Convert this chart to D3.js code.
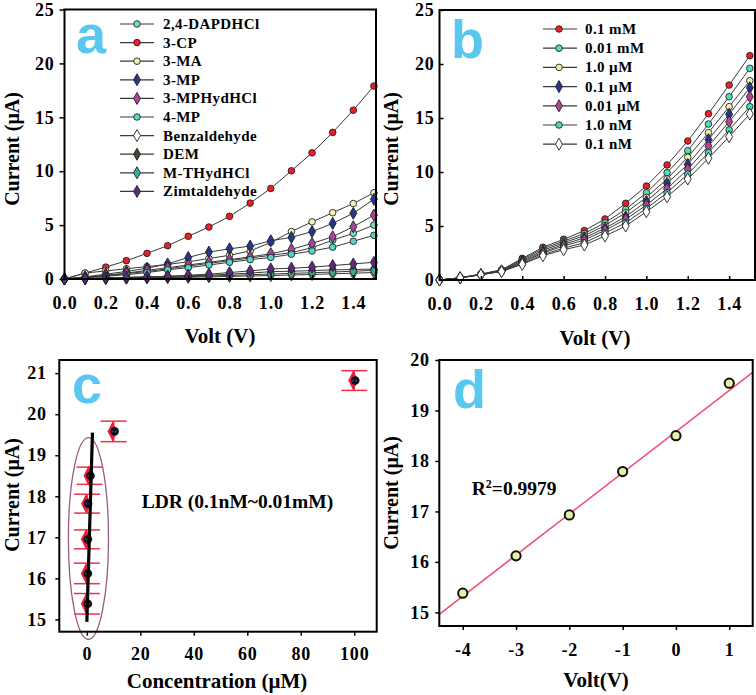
<!DOCTYPE html>
<html>
<head>
<meta charset="utf-8">
<script src="https://cdn.jsdelivr.net/npm/d3@7"></script>
<style>
  body { margin: 0; background: #fff; }
  svg text { font-family: "Liberation Serif", "Times New Roman", serif; font-weight: bold; }
</style>
</head>
<body>
<div id="chart"></div>
<script>
// ========== Data ==========
const voltage = [0, 0.1, 0.2, 0.3, 0.4, 0.5, 0.6, 0.7, 0.8, 0.9, 1.0, 1.1, 1.2, 1.3, 1.4, 1.5];

// panel a - selectivity (current, µA)
const analyteNames = ["2,4-DAPDHCl", "3-CP", "3-MA", "3-MP", "3-MPHydHCl", "4-MP",
  "Benzaldehyde", "DEM", "M-THydHCl", "Zimtaldehyde"];
const analyteColors = ["#6fe0b8", "#ee1c24", "#eef2b0", "#27358f", "#a8449a", "#4fd8c8",
  "#ffffff", "#3c4a34", "#3aa898", "#5a2a82"];
const analyteShapes = ["circle", "circle", "circle", "diamond", "diamond", "circle",
  "diamond", "diamond", "diamond", "diamond"];
const dapdhclCurrent = [0, 0.15, 0.3, 0.5, 0.7, 0.95, 1.2, 1.45, 1.7, 1.95, 2.2, 2.45, 2.9, 3.6, 4.24, 5.0];
const cpCurrent      = [0, 0.55, 1.1, 1.7, 2.38, 3.09, 3.96, 4.82, 5.81, 7.04, 8.4, 10.04, 11.7, 13.6, 15.66, 17.9];
const maCurrent      = [0, 0.55, 0.75, 0.95, 1.15, 1.35, 1.6, 1.9, 2.2, 2.6, 3.4, 4.4, 5.3, 6.15, 7.0, 8.0];
const mpCurrent      = [0, 0.2, 0.45, 0.7, 1.0, 1.4, 2.0, 2.5, 2.8, 3.05, 3.55, 3.86, 4.4, 5.16, 6.1, 7.4];
const mphydCurrent   = [0, 0.15, 0.35, 0.55, 0.8, 1.05, 1.3, 1.55, 1.8, 2.05, 2.35, 2.75, 3.3, 3.92, 4.85, 5.93];
const fourMpCurrent  = [0, 0.1, 0.25, 0.4, 0.6, 0.85, 1.05, 1.3, 1.55, 1.8, 2.0, 2.3, 2.6, 2.95, 3.5, 4.05];
const benzCurrent    = [0, 0.02, 0.04, 0.07, 0.1, 0.13, 0.16, 0.2, 0.24, 0.28, 0.32, 0.37, 0.42, 0.48, 0.54, 0.6];
const demCurrent     = [0, 0.05, 0.1, 0.15, 0.2, 0.25, 0.3, 0.35, 0.45, 0.55, 0.68, 0.72, 0.78, 0.85, 0.88, 0.92];
const mthydCurrent   = [0, 0.03, 0.06, 0.1, 0.14, 0.18, 0.22, 0.27, 0.33, 0.4, 0.46, 0.52, 0.58, 0.65, 0.72, 0.8];
const zimtCurrent    = [0, 0.05, 0.1, 0.15, 0.2, 0.25, 0.35, 0.45, 0.6, 0.75, 0.93, 1.0, 1.1, 1.25, 1.4, 1.55];
const analyteCurrents = [dapdhclCurrent, cpCurrent, maCurrent, mpCurrent, mphydCurrent, fourMpCurrent,
  benzCurrent, demCurrent, mthydCurrent, zimtCurrent];

// panel b - concentration series (current, µA)
const concNames = ["0.1 mM", "0.01 mM", "1.0 µM", "0.1 µM", "0.01 µM", "1.0 nM", "0.1 nM"];
const concColors = ["#ee1c24", "#55dcb4", "#eef2b0", "#27358f", "#b0459a", "#4fd8c0", "#ffffff"];
const concShapes = ["circle", "circle", "circle", "diamond", "diamond", "circle", "diamond"];
const c1e2Current = [0, 0.2, 0.55, 0.95, 2.0, 3.03, 3.77, 4.57, 5.65, 7.1, 8.7, 10.65, 12.87, 15.4, 18.05, 20.77];
const c1e1Current = [0, 0.2, 0.55, 0.9, 1.9, 2.9, 3.6, 4.3, 5.3, 6.54, 8.08, 9.94, 11.97, 14.44, 16.97, 19.6];
const c1e0Current = [0, 0.2, 0.52, 0.88, 1.8, 2.75, 3.45, 4.1, 5.05, 6.23, 7.65, 9.35, 11.36, 13.64, 16.05, 18.45];
const c1m1Current = [0, 0.2, 0.5, 0.85, 1.7, 2.6, 3.3, 3.9, 4.8, 5.86, 7.28, 8.95, 10.7, 13.0, 15.34, 17.8];
const c1m2Current = [0, 0.2, 0.5, 0.82, 1.6, 2.5, 3.15, 3.7, 4.6, 5.62, 6.94, 8.45, 10.25, 12.4, 14.66, 16.97];
const c1m3Current = [0, 0.2, 0.5, 0.8, 1.5, 2.35, 2.95, 3.45, 4.35, 5.3, 6.63, 8.08, 9.8, 11.8, 13.9, 16.05];
const c1m4Current = [0, 0.2, 0.48, 0.78, 1.45, 2.25, 2.8, 3.24, 4.07, 5.0, 6.32, 7.7, 9.35, 11.27, 13.27, 15.37];
const concCurrents = [c1e2Current, c1e1Current, c1e0Current, c1m1Current, c1m2Current, c1m3Current, c1m4Current];

// panel c - current vs concentration
const ldrConc = [0.0001, 0.001, 0.01, 0.1, 1, 10, 100];
const ldrCurrent = [15.38, 16.12, 16.95, 17.82, 18.5, 19.58, 20.82];
const ldrError = [0.25, 0.25, 0.23, 0.23, 0.21, 0.25, 0.24];
const ldrFitConc = [0, 2.1];
const ldrFitCurrent = [14.94, 19.55];
const ldrEllipse = { conc: 0.6, current: 16.97, rConc: 7.5, rCurrent: 2.46 };

// panel d - calibration
const logConc = [-4, -3, -2, -1, 0, 1];
const calibCurrent = [15.38, 16.12, 16.93, 17.79, 18.5, 19.54];
const calibSlope = 0.815;
const calibIntercept = 18.58;

// ========== Setup ==========
const width = 756;
const height = 695;
const letterColor = "#58c8f0";
const intFormat = (d) => String(d);

const svg = d3.select("#chart").append("svg")
  .attr("width", width)
  .attr("height", height);

svg.append("rect").attr("width", width).attr("height", height).attr("fill", "#fff");

function styleAxis(g, size) {
  g.select(".domain").remove();
  g.selectAll("line").attr("stroke", "#000").attr("stroke-width", 1.5);
  g.selectAll("text")
    .attr("fill", "#000")
    .style("font-family", "'Liberation Serif', serif")
    .style("font-weight", "bold")
    .style("font-size", size + "px")
    .attr("letter-spacing", 0.8);
}

function drawFrame(x, y) {
  const [x0, x1] = x.range();
  const [y0, y1] = y.range();
  svg.append("rect")
    .attr("x", x0).attr("y", y1)
    .attr("width", x1 - x0).attr("height", y0 - y1)
    .attr("fill", "none").attr("stroke", "#000").attr("stroke-width", 2);
}

function rotatedLabel(text, cx, cy) {
  svg.append("text")
    .attr("transform", `translate(${cx},${cy}) rotate(-90)`)
    .attr("text-anchor", "middle")
    .attr("dominant-baseline", "central")
    .style("font-size", "20px")
    .text(text);
}

function flatLabel(text, cx, cy, size) {
  svg.append("text")
    .attr("x", cx).attr("y", cy)
    .attr("text-anchor", "middle")
    .attr("dominant-baseline", "central")
    .style("font-size", (size || 21) + "px")
    .text(text);
}

function panelLetter(letter, x, y) {
  svg.append("text")
    .attr("x", x).attr("y", y)
    .attr("fill", letterColor)
    .style("font-family", "'Liberation Sans', Arial, sans-serif")
    .style("font-weight", "bold")
    .style("font-size", "54px")
    .text(letter);
}

function marker(g, shape, cx, cy, fill) {
  if (shape === "circle") {
    g.append("circle").attr("cx", cx).attr("cy", cy).attr("r", 3.3)
      .attr("fill", fill).attr("stroke", "#222").attr("stroke-width", 0.9);
  } else {
    g.append("path")
      .attr("d", d3.symbol(d3.symbolDiamond, 42)())
      .attr("transform", `translate(${cx},${cy})`)
      .attr("fill", fill).attr("stroke", "#222").attr("stroke-width", 0.9);
  }
}

// ========== IV panels (a, b) ==========
function drawIV(cfg) {
  const x = d3.scaleLinear().domain(cfg.xDomain).range(cfg.xRange);
  const y = d3.scaleLinear().domain([0, 25]).range(cfg.yRange);

  const line = d3.line().x((d, i) => x(voltage[i])).y((d) => y(d));
  const g = svg.append("g");

  cfg.currents.forEach((vals) => {
    g.append("path").datum(vals)
      .attr("fill", "none").attr("stroke", "#3a3a3a").attr("stroke-width", 1)
      .attr("d", line);
  });
  cfg.currents.forEach((vals, s) => {
    vals.forEach((v, i) => marker(g, cfg.shapes[s], x(voltage[i]), y(v), cfg.colors[s]));
  });

  drawFrame(x, y);

  svg.append("g")
    .attr("transform", `translate(0,${cfg.yRange[0]})`)
    .call(d3.axisBottom(x).tickValues([0, 0.2, 0.4, 0.6, 0.8, 1.0, 1.2, 1.4])
      .tickFormat(d3.format(".1f")).tickSize(-4).tickPadding(cfg.xPad))
    .call((a) => styleAxis(a, 18));

  svg.append("g")
    .attr("transform", `translate(${cfg.xRange[0]},0)`)
    .call(d3.axisLeft(y).tickValues([0, 5, 10, 15, 20, 25]).tickFormat(intFormat)
      .tickSize(cfg.yTick).tickPadding(cfg.yPad))
    .call((a) => styleAxis(a, 18));

  // legend
  cfg.names.forEach((name, i) => {
    const ly = cfg.legend.y0 + i * cfg.legend.dy;
    g.append("line")
      .attr("x1", cfg.legend.x0).attr("x2", cfg.legend.x1)
      .attr("y1", ly).attr("y2", ly)
      .attr("stroke", "#3a3a3a").attr("stroke-width", 1.2);
    marker(g, cfg.shapes[i], cfg.legend.xm, ly, cfg.colors[i]);
    g.append("text")
      .attr("x", cfg.legend.xt).attr("y", ly)
      .attr("dominant-baseline", "central")
      .style("font-size", "15px")
      .attr("letter-spacing", 0.4)
      .text(name);
  });
}

drawIV({
  xDomain: [0, 1.51], xRange: [64.5, 376], yRange: [279, 9.5],
  currents: analyteCurrents, colors: analyteColors, shapes: analyteShapes, names: analyteNames,
  xPad: 17, yTick: 5, yPad: 5,
  legend: { x0: 120, x1: 154, xm: 137, xt: 163, y0: 24, dy: 18.6 }
});

drawIV({
  xDomain: [0, 1.525], xRange: [439.5, 755], yRange: [280, 10],
  currents: concCurrents, colors: concColors, shapes: concShapes, names: concNames,
  xPad: 17, yTick: -4, yPad: 5,
  legend: { x0: 543, x1: 577, xm: 559, xt: 585, y0: 29, dy: 19.2 }
});

rotatedLabel("Current (μA)", 12, 149);
rotatedLabel("Current (μA)", 391, 149);
flatLabel("Volt (V)", 220, 336);
flatLabel("Volt (V)", 595, 338);
panelLetter("a", 76, 53);
panelLetter("b", 451, 58);

// ========== Panel c ==========
(function drawPanelC() {
  const x = d3.scaleLinear().domain([-10.3, 108.4]).range([59.3, 376.7]);
  const y = d3.scaleLinear().domain([14.7, 21.32]).range([631.7, 360]);
  const g = svg.append("g");

  // ellipse around linear range
  g.append("ellipse")
    .attr("cx", x(ldrEllipse.conc)).attr("cy", y(ldrEllipse.current))
    .attr("rx", x(ldrEllipse.rConc) - x(0))
    .attr("ry", y(0) - y(ldrEllipse.rCurrent))
    .attr("fill", "none").attr("stroke", "#9a5a84").attr("stroke-width", 1.3);

  // error bars
  const cap = 13;
  ldrConc.forEach((c, i) => {
    const cx = x(c);
    const top = y(ldrCurrent[i] + ldrError[i]);
    const bot = y(ldrCurrent[i] - ldrError[i]);
    g.append("line").attr("x1", cx).attr("x2", cx).attr("y1", top).attr("y2", bot)
      .attr("stroke", "#f0304a").attr("stroke-width", 1.5);
    [top, bot].forEach((yy) => {
      g.append("line").attr("x1", cx - cap).attr("x2", cx + cap).attr("y1", yy).attr("y2", yy)
        .attr("stroke", "#f0304a").attr("stroke-width", 1.5);
    });
  });

  // markers: red diamond with dark circle
  ldrConc.forEach((c, i) => {
    const cx = x(c);
    const cy = y(ldrCurrent[i]);
    g.append("path")
      .attr("d", `M${cx - 1},${cy - 10}L${cx + 4},${cy}L${cx - 1},${cy + 10}L${cx - 6},${cy}Z`)
      .attr("fill", "#ee1c3a");
    g.append("circle").attr("cx", cx + 1).attr("cy", cy).attr("r", 4.3).attr("fill", "#111");
    g.append("circle").attr("cx", cx - 1).attr("cy", cy).attr("r", 1).attr("fill", "#2a44c0");
    g.append("circle").attr("cx", cx + 2).attr("cy", cy).attr("r", 1).attr("fill", "#2a44c0");
  });

  // fit line
  g.append("line")
    .attr("x1", x(ldrFitConc[0])).attr("y1", y(ldrFitCurrent[0]))
    .attr("x2", x(ldrFitConc[1])).attr("y2", y(ldrFitCurrent[1]))
    .attr("stroke", "#000").attr("stroke-width", 3.2);

  drawFrame(x, y);

  svg.append("g")
    .attr("transform", `translate(0,${y.range()[0]})`)
    .call(d3.axisBottom(x).tickValues([0, 20, 40, 60, 80, 100]).tickFormat(intFormat)
      .tickSize(4).tickPadding(12))
    .call((a) => styleAxis(a, 18));
  svg.append("g")
    .attr("transform", `translate(${x.range()[0]},0)`)
    .call(d3.axisLeft(y).tickValues([15, 16, 17, 18, 19, 20, 21]).tickFormat(intFormat)
      .tickSize(4).tickPadding(8.5))
    .call((a) => styleAxis(a, 18));

  svg.append("text")
    .attr("x", 141.7).attr("y", 508)
    .style("font-size", "19.5px")
    .text("LDR (0.1nM~0.01mM)");

  rotatedLabel("Current (μA)", 12, 495);
  flatLabel("Concentration (μM)", 217, 681);
  panelLetter("c", 72, 403);
})();

// ========== Panel d ==========
(function drawPanelD() {
  const x = d3.scaleLinear().domain([-4.44, 1.44]).range([439.3, 752.7]);
  const y = d3.scaleLinear().domain([14.73, 20]).range([626, 360]);
  const g = svg.append("g");

  const xs = x.domain();
  g.append("line")
    .attr("x1", x(xs[0])).attr("y1", y(calibIntercept + calibSlope * xs[0]))
    .attr("x2", x(xs[1])).attr("y2", y(calibIntercept + calibSlope * xs[1]))
    .attr("stroke", "#ec4f72").attr("stroke-width", 1.5);

  logConc.forEach((c, i) => {
    g.append("circle")
      .attr("cx", x(c)).attr("cy", y(calibCurrent[i])).attr("r", 4.6)
      .attr("fill", "#e6f0a8").attr("stroke", "#111").attr("stroke-width", 2);
  });

  drawFrame(x, y);

  svg.append("g")
    .attr("transform", `translate(0,${y.range()[0]})`)
    .call(d3.axisBottom(x).tickValues(logConc).tickFormat(intFormat)
      .tickSize(4).tickPadding(13))
    .call((a) => styleAxis(a, 18));
  svg.append("g")
    .attr("transform", `translate(${x.range()[0]},0)`)
    .call(d3.axisLeft(y).tickValues([15, 16, 17, 18, 19, 20]).tickFormat(intFormat)
      .tickSize(4).tickPadding(5.5))
    .call((a) => styleAxis(a, 18));

  const r2 = svg.append("text").attr("x", 471.7).attr("y", 495).style("font-size", "19.5px");
  r2.append("tspan").text("R");
  r2.append("tspan").attr("dy", -7).style("font-size", "12px").text("2");
  r2.append("tspan").attr("dy", 7).text("=0.9979");

  rotatedLabel("Current (μA)", 391, 493);
  flatLabel("Volt(V)", 596, 680);
  panelLetter("d", 453, 408);
})();
</script>
</body>
</html>
